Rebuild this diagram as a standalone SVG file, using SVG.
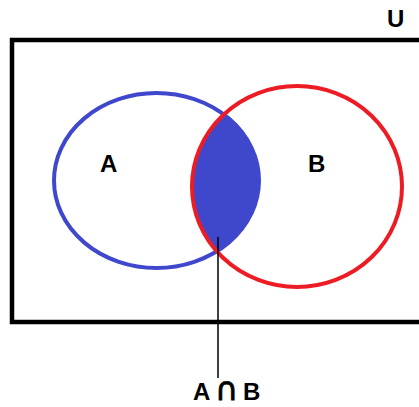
<svg xmlns="http://www.w3.org/2000/svg" width="419" height="407" viewBox="0 0 419 407">
<style>
.lbl{font-family:"Liberation Sans",Arial,sans-serif;font-weight:bold;font-size:24px;fill:#000}
.cap{font-family:"DejaVu Sans",sans-serif;font-weight:normal;font-size:32px;fill:#000;stroke:#000;stroke-width:0.8}
.set{fill:none;stroke-width:4}
</style>
<defs>
<clipPath id="clipB"><ellipse cx="297" cy="186.5" rx="105" ry="100.5"/></clipPath>
</defs>
<rect width="419" height="407" fill="#fff"/>
<g id="universe">
<rect x="12" y="40" width="420" height="282" fill="none" stroke="#000" stroke-width="4.5"/>
<text class="lbl" x="387" y="27">U</text>
</g>
<g id="intersection">
<ellipse cx="156.5" cy="180.5" rx="102.5" ry="87.5" fill="#3f48cc" clip-path="url(#clipB)"/>
</g>
<g id="setA">
<ellipse class="set" cx="156.5" cy="180.5" rx="102.5" ry="87.5" stroke="#3f48cc"/>
<text class="lbl" x="100" y="172">A</text>
</g>
<g id="setB">
<ellipse class="set" cx="297" cy="186.5" rx="105" ry="100.5" stroke="#ed1c24"/>
<text class="lbl" x="308" y="172">B</text>
</g>
<g id="connectors">
<line x1="218" y1="237" x2="218" y2="378" stroke="#000" stroke-width="1.5"/>
</g>
<g id="label-AnB">
<text class="lbl" x="193" y="400">A</text>
<text class="cap" x="215" y="400">∩</text>
<text class="lbl" x="243" y="400">B</text>
</g>
</svg>
